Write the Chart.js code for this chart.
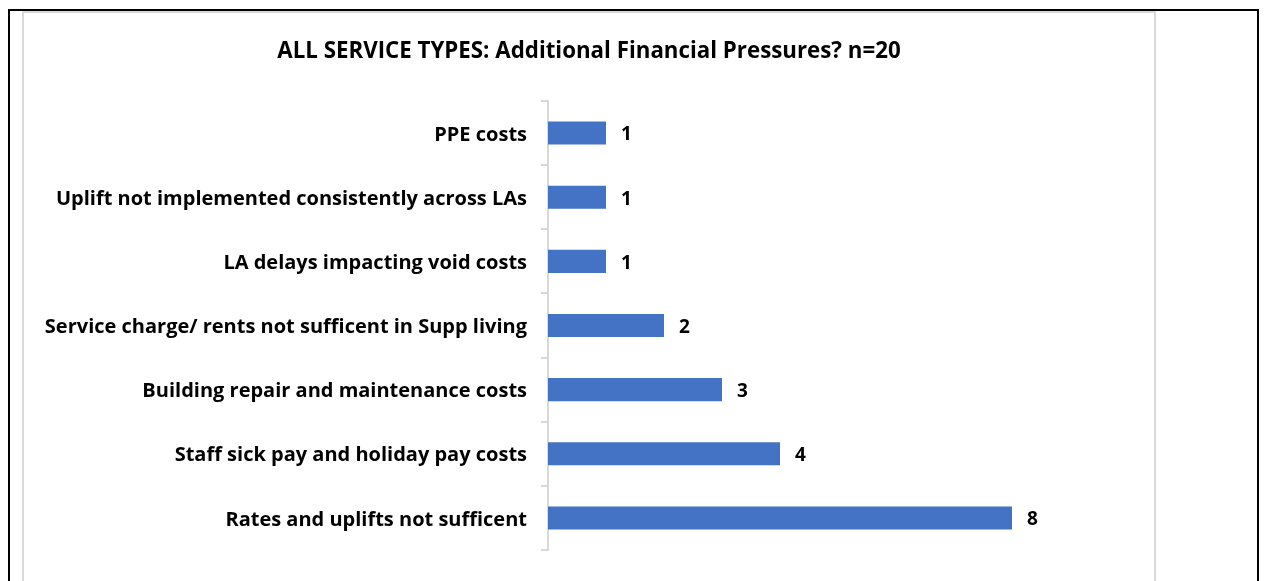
<!DOCTYPE html>
<html>
<head>
<meta charset="utf-8">
<script src="https://cdn.jsdelivr.net/npm/chart.js@4.4.0/dist/chart.umd.min.js"></script>
<style>
    html, body { margin: 0; padding: 0; background: #fff; }
    body { width: 1264px; height: 581px; position: relative; overflow: hidden; }
    .outer { position: absolute; left: 8px; top: 9px; width: 1251px; height: 600px; border: 2px solid #000; box-sizing: border-box; }
    .inner { position: absolute; left: 22px; top: 11px; width: 1134px; height: 600px; border: 2px solid #d9d9d9; box-sizing: border-box; }
    #chart-title { position: absolute; left: 25px; width: 1128px; top: 36px; text-align: center;
        font: bold 22.3px "Open Sans", sans-serif; color: #000; line-height: 28px; white-space: nowrap; }
    #chart-wrap { position: absolute; left: 25px; top: 13px; width: 1128px; height: 568px; }
</style>
</head>
<body>
<div class="outer"></div>
<div class="inner"></div>
<div id="chart-wrap"><canvas id="chart-pressures"></canvas></div>
<div id="chart-title"></div>
<script>
const chartTitle = 'ALL SERVICE TYPES: Additional Financial Pressures? n=20';
const categories = [
    'PPE costs',
    'Uplift not implemented consistently across LAs',
    'LA delays impacting void costs',
    'Service charge/ rents not sufficent in Supp living',
    'Building repair and maintenance costs',
    'Staff sick pay and holiday pay costs',
    'Rates and uplifts not sufficent'
];
const counts = [1, 1, 1, 2, 3, 4, 8];

const FONT = '"Open Sans", sans-serif';

document.getElementById('chart-title').textContent = chartTitle;

// little plugin to write the value after each bar
const barValues = {
    id: 'barValues',
    afterDatasetsDraw(chart) {
        const ctx = chart.ctx;
        const meta = chart.getDatasetMeta(0);
        ctx.save();
        ctx.font = 'bold 19px ' + FONT;
        ctx.fillStyle = '#000';
        ctx.textAlign = 'left';
        ctx.textBaseline = 'middle';
        meta.data.forEach((bar, i) => {
            ctx.fillText(String(counts[i]), bar.x + 15, bar.y + 2);
        });
        ctx.restore();
    }
};

const ctx = document.getElementById('chart-pressures').getContext('2d');
new Chart(ctx, {
    type: 'bar',
    data: {
        labels: categories,
        datasets: [{
            data: counts,
            backgroundColor: '#4472C4',
            barPercentage: 0.72,
            categoryPercentage: 0.5
        }]
    },
    options: {
        indexAxis: 'y',
        responsive: true,
        maintainAspectRatio: false,
        animation: false,
        layout: { padding: { top: 88, right: 83, bottom: 31, left: 0 } },
        plugins: {
            legend: { display: false },
            tooltip: { enabled: false },
            title: { display: false }
        },
        scales: {
            x: { display: false, min: 0, max: 9 },
            y: {
                afterFit(scale) { scale.width = 523; },
                grid: {
                    offset: true,
                    drawOnChartArea: false,
                    drawTicks: true,
                    tickLength: 7,
                    color: '#d9d9d9',
                    lineWidth: 2
                },
                border: { display: true, color: '#d9d9d9', width: 2 },
                ticks: {
                    color: '#000',
                    padding: 14,
                    labelOffset: 2,
                    font: { family: FONT, size: 20, weight: 'bold' }
                }
            }
        }
    },
    plugins: [barValues]
});
</script>
</body>
</html>
